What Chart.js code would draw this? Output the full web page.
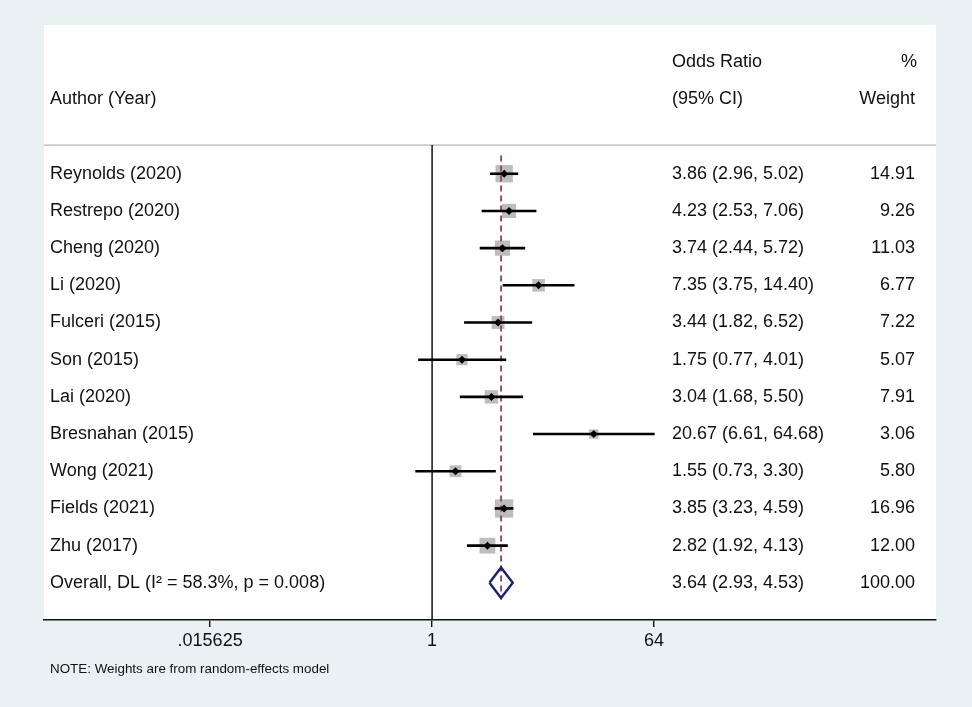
<!DOCTYPE html>
<html>
<head>
<meta charset="utf-8">
<script src="https://cdn.jsdelivr.net/npm/chart.js@4.4.1/dist/chart.umd.min.js"></script>
<style>
  body { margin: 0; background: #eaf1f3; }
  #wrap { width: 972px; height: 707px; }
</style>
</head>
<body>
<div id="wrap"><canvas id="forest"></canvas></div>
<script>
var authors = ["Reynolds (2020)", "Restrepo (2020)", "Cheng (2020)", "Li (2020)", "Fulceri (2015)", "Son (2015)",
  "Lai (2020)", "Bresnahan (2015)", "Wong (2021)", "Fields (2021)", "Zhu (2017)"];
var orValues = [3.86, 4.23, 3.74, 7.35, 3.44, 1.75, 3.04, 20.67, 1.55, 3.85, 2.82];
var lowValues = [2.96, 2.53, 2.44, 3.75, 1.82, 0.77, 1.68, 6.61, 0.73, 3.23, 1.92];
var highValues = [5.02, 7.06, 5.72, 14.40, 6.52, 4.01, 5.50, 64.68, 3.30, 4.59, 4.13];
var weights = [14.91, 9.26, 11.03, 6.77, 7.22, 5.07, 7.91, 3.06, 5.80, 16.96, 12.00];
var overallLabel = "Overall, DL (I\u00b2 = 58.3%, p = 0.008)";
var overallOR = 3.64, overallLow = 2.93, overallHigh = 4.53, overallWeight = 100.00;
var xTickValues = [0.015625, 1, 64];

var overallRow = authors.length;
function fmt(v) { return v.toFixed(2); }

// one line dataset per confidence interval
var ciSets = [];
for (var i = 0; i < authors.length; i++) {
  ciSets.push({
    type: "line",
    data: [{ x: Math.log2(lowValues[i]), y: i }, { x: Math.log2(highValues[i]), y: i }],
    borderColor: "#000",
    borderWidth: 2.6,
    pointRadius: 0,
    order: 1
  });
}

var boxes = [];
var points = [];
for (var i = 0; i < authors.length; i++) {
  boxes.push({ x: Math.log2(orValues[i]), y: i });
  points.push({ x: Math.log2(orValues[i]), y: i });
}

var lOR = Math.log2(overallOR);
var datasets = ciSets.concat([
  {
    type: "scatter",
    data: points,
    pointStyle: "rectRot",
    pointRadius: 4,
    backgroundColor: "#000",
    borderColor: "#000",
    borderWidth: 0,
    order: 0
  },
  {
    type: "line",
    data: [{ x: lOR, y: -0.49 }, { x: lOR, y: overallRow + 0.45 }],
    borderColor: "#8a4455",
    borderWidth: 1.8,
    borderDash: [6, 4],
    pointRadius: 0,
    order: 2
  },
  {
    type: "scatter",
    data: boxes,
    pointStyle: "rect",
    // box side grows with the root of the weight
    pointRadius: weights.map(function (w) { return (2.65 + 3.8 * Math.sqrt(w)) / Math.SQRT2; }),
    backgroundColor: "#bdbdbd",
    borderWidth: 0,
    order: 3
  },
  {
    type: "line",
    data: [
      { x: Math.log2(overallLow), y: overallRow },
      { x: lOR, y: overallRow - 0.41 },
      { x: Math.log2(overallHigh), y: overallRow },
      { x: lOR, y: overallRow + 0.41 },
      { x: Math.log2(overallLow), y: overallRow }
    ],
    borderColor: "#1f1f78",
    borderWidth: 2.4,
    borderJoinStyle: "miter",
    pointRadius: 0,
    tension: 0,
    order: 0
  },
  {
    type: "line",
    data: [{ x: 0, y: -0.77 }, { x: 0, y: 12 }],
    borderColor: "#222",
    borderWidth: 1.6,
    pointRadius: 0,
    order: 4
  },
  {
    type: "line",
    data: [{ x: -10.49, y: -0.77 }, { x: 13.62, y: -0.77 }],
    borderColor: "#c8c8c8",
    borderWidth: 1.6,
    pointRadius: 0,
    order: 5
  }
]);

var background = {
  id: "background",
  beforeDraw: function (chart) {
    var ctx = chart.ctx, a = chart.chartArea;
    ctx.save();
    ctx.fillStyle = "#eaf1f3";
    ctx.fillRect(0, 0, chart.width, chart.height);
    ctx.fillStyle = "#fff";
    ctx.fillRect(a.left, a.top, a.right - a.left, a.bottom - a.top);
    ctx.restore();
  }
};

var tableText = {
  id: "tableText",
  afterDraw: function (chart) {
    var ctx = chart.ctx, y = chart.scales.y, a = chart.chartArea;
    ctx.save();
    ctx.fillStyle = "#111";
    ctx.textBaseline = "middle";
    ctx.font = "18px 'Liberation Sans', Arial, sans-serif";
    var xName = a.left + 6, xOR = 672, xW = 915;

    ctx.textAlign = "left";
    ctx.fillText("Odds Ratio", xOR, y.getPixelForValue(-3));
    ctx.fillText("(95% CI)", xOR, y.getPixelForValue(-2));
    ctx.fillText("Author (Year)", xName, y.getPixelForValue(-2));
    ctx.textAlign = "right";
    ctx.fillText("%", xW + 2, y.getPixelForValue(-3));
    ctx.fillText("Weight", xW, y.getPixelForValue(-2));

    for (var i = 0; i < authors.length; i++) {
      var py = y.getPixelForValue(i);
      ctx.textAlign = "left";
      ctx.fillText(authors[i], xName, py);
      ctx.fillText(fmt(orValues[i]) + " (" + fmt(lowValues[i]) + ", " + fmt(highValues[i]) + ")", xOR, py);
      ctx.textAlign = "right";
      ctx.fillText(fmt(weights[i]), xW, py);
    }
    var po = y.getPixelForValue(overallRow);
    ctx.textAlign = "left";
    ctx.fillText(overallLabel, xName, po);
    ctx.fillText(fmt(overallOR) + " (" + fmt(overallLow) + ", " + fmt(overallHigh) + ")", xOR, po);
    ctx.textAlign = "right";
    ctx.fillText(fmt(overallWeight), xW, po);

    ctx.textAlign = "left";
    ctx.font = "13.4px 'Liberation Sans', Arial, sans-serif";
    ctx.fillText("NOTE: Weights are from random-effects model", xName, a.bottom + 49);
    ctx.restore();
  }
};

new Chart("forest", {
  type: "scatter",
  data: { datasets: datasets },
  options: {
    responsive: true,
    maintainAspectRatio: false,
    animation: false,
    layout: { padding: { left: 44, right: 36, top: 25, bottom: 55 } },
    plugins: { legend: { display: false }, tooltip: { enabled: false } },
    scales: {
      x: {
        type: "linear",
        min: -10.49,
        max: 13.62,
        afterBuildTicks: function (s) {
          s.ticks = xTickValues.map(function (v) { return { value: Math.log2(v) }; });
        },
        afterFit: function (s) { s.height = 32; },
        ticks: {
          color: "#111",
          padding: 3,
          font: { size: 18, family: "'Liberation Sans', Arial, sans-serif" },
          callback: function (v) { return String(Math.pow(2, v)).replace(/^0\./, "."); }
        },
        grid: { drawOnChartArea: false, drawTicks: true, tickLength: 7, color: "#111", lineWidth: 1.4 },
        border: { display: true, color: "#111", width: 1.6 }
      },
      y: {
        type: "linear",
        display: false,
        reverse: true,
        min: -4,
        max: 12
      }
    }
  },
  plugins: [background, tableText]
});
</script>
</body>
</html>
